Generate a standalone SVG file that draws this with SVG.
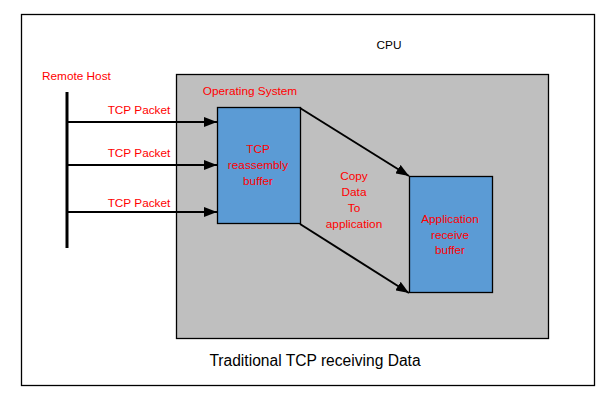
<svg xmlns="http://www.w3.org/2000/svg" width="614" height="404" viewBox="0 0 614 404">
<style>
text{font-family:"Liberation Sans",Arial,sans-serif;font-size:11.8px;fill:#ff0000}
.blk{fill:#000}
.box{fill:#5b9bd5;stroke:#000;stroke-width:1.3}
.conn{stroke:#000;stroke-width:2;fill:none;marker-end:url(#ah)}
</style>
<defs>
<marker id="ah" markerWidth="13" markerHeight="10" viewBox="0 0 13 10" refX="13" refY="5" orient="auto" markerUnits="userSpaceOnUse">
<path d="M0,0 L13,5 L0,10 z" fill="#000"/>
</marker>
</defs>
<rect width="614" height="404" fill="#fff"/>
<g id="frame">
<rect x="21.5" y="14.5" width="573" height="371" fill="#fff" stroke="#000" stroke-width="1.3"/>
<text class="blk" x="389" y="49" text-anchor="middle">CPU</text>
<text class="blk" x="315" y="366" text-anchor="middle" style="font-size:15.6px">Traditional TCP receiving Data</text>
</g>
<g id="os">
<rect x="176.5" y="74.5" width="372" height="264" fill="#bfbfbf" stroke="#000" stroke-width="1.3"/>
<text x="250" y="95" text-anchor="middle">Operating System</text>
</g>
<g id="remote-host">
<text x="42" y="80">Remote Host</text>
<line x1="67" y1="92" x2="67" y2="248" stroke="#000" stroke-width="3"/>
</g>
<g id="tcp-buffer">
<rect class="box" x="217.5" y="107.5" width="83" height="116"/>
<text x="258" y="153" text-anchor="middle">TCP</text>
<text x="258" y="169" text-anchor="middle">reassembly</text>
<text x="258" y="185" text-anchor="middle">buffer</text>
</g>
<g id="app-buffer">
<rect class="box" x="409.5" y="176.5" width="83" height="116"/>
<text x="450" y="223" text-anchor="middle">Application</text>
<text x="450" y="239" text-anchor="middle">receive</text>
<text x="450" y="254" text-anchor="middle">buffer</text>
</g>
<g id="connectors">
<line class="conn" x1="67" y1="122" x2="217" y2="122"/>
<line class="conn" x1="67" y1="165" x2="217" y2="165"/>
<line class="conn" x1="67" y1="212" x2="217" y2="212"/>
<line class="conn" x1="300" y1="108" x2="409" y2="176"/>
<line class="conn" x1="300" y1="224" x2="409" y2="293"/>
<text x="139" y="114" text-anchor="middle">TCP Packet</text>
<text x="139" y="157" text-anchor="middle">TCP Packet</text>
<text x="139" y="207" text-anchor="middle">TCP Packet</text>
<text x="354" y="180" text-anchor="middle">Copy</text>
<text x="354" y="196" text-anchor="middle">Data</text>
<text x="354" y="212" text-anchor="middle">To</text>
<text x="354" y="228" text-anchor="middle">application</text>
</g>
</svg>
